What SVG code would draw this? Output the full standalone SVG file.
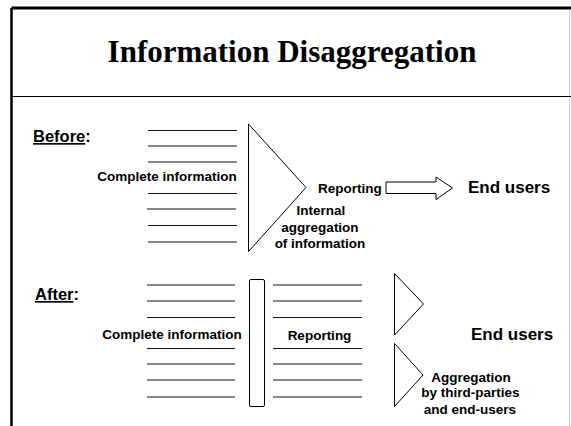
<svg xmlns="http://www.w3.org/2000/svg" width="571" height="426" viewBox="0 0 571 426">
  <style>
    .title { font-family: "Liberation Serif", "Times New Roman", serif; font-weight: bold; font-size: 31px; fill: #000; }
    .lbl { font-family: "Liberation Sans", Arial, sans-serif; font-weight: bold; font-size: 13.5px; fill: #000; }
    .head { font-family: "Liberation Sans", Arial, sans-serif; font-weight: bold; font-size: 16.5px; fill: #000; }
    .big { font-family: "Liberation Sans", Arial, sans-serif; font-weight: bold; font-size: 17px; fill: #000; }
    .rule { stroke: #111; stroke-width: 1; fill: none; }
    .shape { stroke: #000; stroke-width: 1; fill: #fff; }
  </style>

  <!-- frame -->
  <g id="frame">
    <rect x="0" y="0" width="571" height="426" fill="#fff"/>
    <line x1="11.5" y1="8" x2="571" y2="8" stroke="#000" stroke-width="3"/>
    <line x1="11.5" y1="8" x2="11.5" y2="426" stroke="#000" stroke-width="2.5"/>
    <line x1="569.5" y1="10" x2="569.5" y2="426" stroke="#ccc" stroke-width="1"/>
    <line x1="11" y1="96.5" x2="571" y2="96.5" stroke="#000" stroke-width="1"/>
  </g>

  <g id="title">
    <text class="title" x="292" y="62" text-anchor="middle">Information Disaggregation</text>
  </g>

  <!-- Before section -->
  <g id="before-label">
    <text class="head" x="33" y="142"><tspan text-decoration="underline">Before</tspan>:</text>
  </g>

  <g id="before-info">
    <g class="rule">
      <line x1="148" y1="130.5" x2="237" y2="130.5"/>
      <line x1="148" y1="146" x2="237" y2="146"/>
      <line x1="148" y1="162" x2="237" y2="162"/>
      <line x1="148" y1="193.5" x2="237" y2="193.5"/>
      <line x1="147" y1="209" x2="236" y2="209"/>
      <line x1="148" y1="225.5" x2="237" y2="225.5"/>
      <line x1="148" y1="242" x2="237" y2="242"/>
    </g>
    <text class="lbl" x="167" y="180.5" text-anchor="middle">Complete information</text>
  </g>

  <g id="internal-aggregation">
    <polygon class="shape" points="248.5,124 306,187.5 248.5,251.5"/>
    <text class="lbl" x="321" y="215" text-anchor="middle">Internal</text>
    <text class="lbl" x="320" y="231.5" text-anchor="middle">aggregation</text>
    <text class="lbl" x="320" y="248" text-anchor="middle">of information</text>
  </g>

  <g id="before-reporting">
    <text class="lbl" x="318" y="193">Reporting</text>
  </g>

  <g id="connectors">
    <polygon class="shape" points="386,182 436,182 436,177 452.5,188 436,199.5 436,193.5 386,193.5"/>
  </g>

  <g id="before-end-users">
    <text class="big" x="468" y="193">End users</text>
  </g>

  <!-- After section -->
  <g id="after-label">
    <text class="head" x="35" y="300"><tspan text-decoration="underline">After</tspan>:</text>
  </g>

  <g id="after-info">
    <g class="rule">
      <line x1="147" y1="285" x2="235" y2="285"/>
      <line x1="147" y1="301" x2="235" y2="301"/>
      <line x1="147" y1="317.5" x2="235" y2="317.5"/>
      <line x1="147" y1="348.5" x2="235" y2="348.5"/>
      <line x1="147" y1="364" x2="235" y2="364"/>
      <line x1="147" y1="380" x2="235" y2="380"/>
      <line x1="147" y1="397" x2="235" y2="397"/>
    </g>
    <text class="lbl" x="172" y="338.5" text-anchor="middle">Complete information</text>
  </g>

  <g id="separator">
    <rect class="shape" x="249.5" y="279.5" width="15" height="127" rx="1.5"/>
  </g>

  <g id="after-reporting">
    <g class="rule">
      <line x1="273" y1="285" x2="362" y2="285"/>
      <line x1="273" y1="301" x2="362" y2="301"/>
      <line x1="273" y1="317.5" x2="362" y2="317.5"/>
      <line x1="273" y1="348.5" x2="362" y2="348.5"/>
      <line x1="273" y1="364" x2="362" y2="364"/>
      <line x1="273" y1="380" x2="362" y2="380"/>
      <line x1="273" y1="397" x2="362" y2="397"/>
    </g>
    <text class="lbl" x="319.5" y="339.5" text-anchor="middle">Reporting</text>
  </g>

  <g id="third-party-aggregation">
    <polygon class="shape" points="394.5,273.5 423.5,304 394.5,335"/>
    <polygon class="shape" points="394.5,343.5 423,375 394.5,406.5"/>
    <text class="lbl" x="471" y="381.5" text-anchor="middle">Aggregation</text>
    <text class="lbl" x="470.5" y="397" text-anchor="middle">by third-parties</text>
    <text class="lbl" x="470" y="413.5" text-anchor="middle">and end-users</text>
  </g>

  <g id="after-end-users">
    <text class="big" x="471" y="340">End users</text>
  </g>
</svg>
